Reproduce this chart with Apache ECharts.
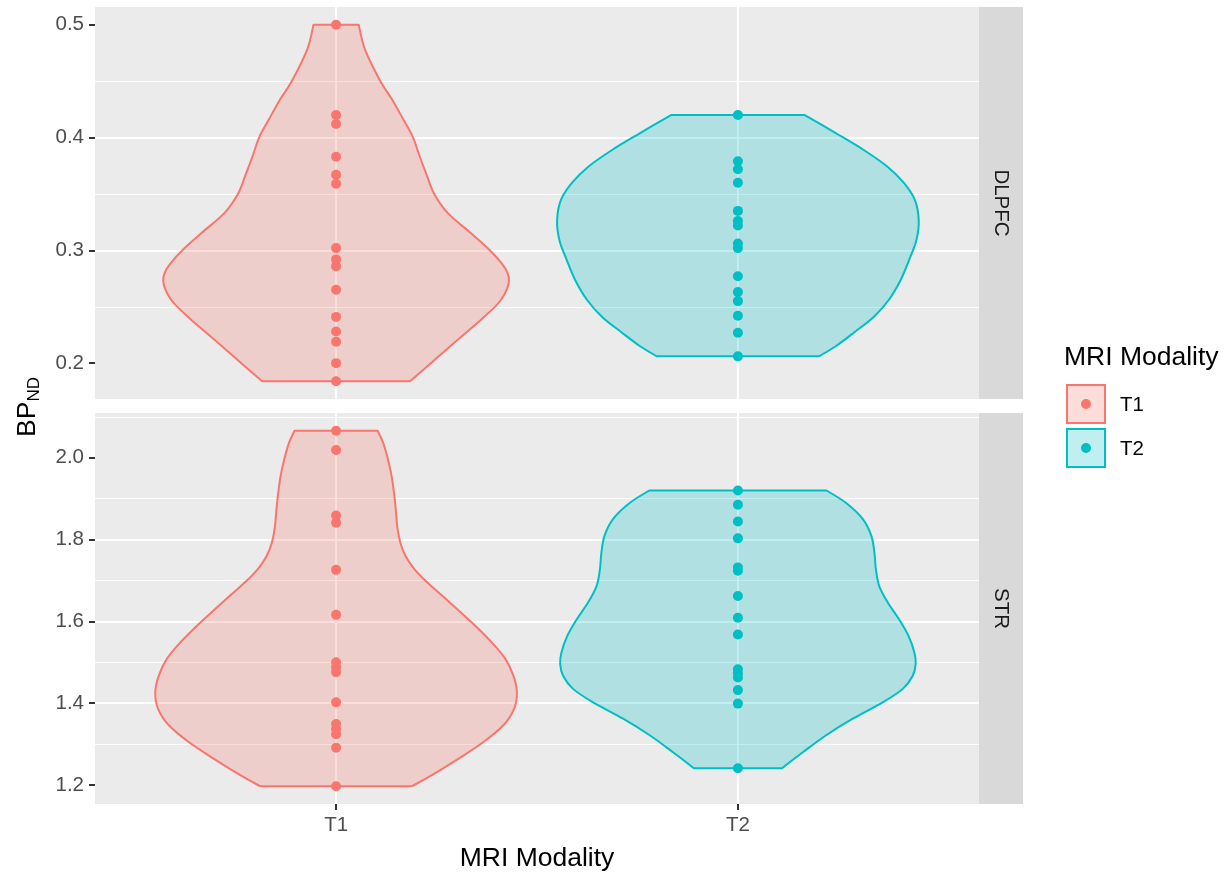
<!DOCTYPE html>
<html>
<head>
<meta charset="utf-8">
<script src="https://cdn.jsdelivr.net/npm/echarts@6/dist/echarts.min.js"></script>
<style>
  html, body { margin: 0; padding: 0; background: #ffffff; }
  #chart { width: 1230px; height: 874px; }
</style>
</head>
<body>
<div id="chart"></div>
<script>
// Binding potential (BP_ND) by MRI modality, faceted by brain region
const modalities = ['T1', 'T2'];
const regions = ['DLPFC', 'STR'];

// individual observations
const dlpfcT1 = [0.500, 0.420, 0.412, 0.383, 0.367, 0.359, 0.302, 0.292, 0.286, 0.265, 0.241, 0.228, 0.219, 0.200, 0.184];
const dlpfcT2 = [0.420, 0.379, 0.372, 0.360, 0.335, 0.326, 0.322, 0.306, 0.302, 0.277, 0.263, 0.255, 0.242, 0.227, 0.206];
const strT1 = [2.066, 2.019, 1.859, 1.841, 1.726, 1.616, 1.500, 1.488, 1.476, 1.402, 1.349, 1.337, 1.324, 1.291, 1.197];
const strT2 = [1.920, 1.885, 1.844, 1.803, 1.732, 1.724, 1.662, 1.609, 1.568, 1.483, 1.473, 1.463, 1.432, 1.399, 1.241];

// violin profiles: [BP_ND, scaled density (1 = widest violin of the panel)]
const dlpfcT1Violin = [
  [0.184, 0.409], [0.201, 0.532], [0.213, 0.617], [0.228, 0.726], [0.239, 0.805],
  [0.251, 0.885], [0.258, 0.920], [0.266, 0.946], [0.273, 0.956], [0.280, 0.948],
  [0.288, 0.918], [0.301, 0.845], [0.316, 0.740], [0.333, 0.618], [0.350, 0.543],
  [0.366, 0.503], [0.383, 0.463], [0.401, 0.423], [0.416, 0.372], [0.434, 0.309],
  [0.450, 0.245], [0.478, 0.160], [0.500, 0.125]
];
const dlpfcT2Violin = [
  [0.206, 0.448], [0.215, 0.541], [0.227, 0.641], [0.241, 0.751], [0.256, 0.834],
  [0.274, 0.901], [0.292, 0.948], [0.309, 0.987], [0.327, 1.000], [0.345, 0.978],
  [0.360, 0.917], [0.374, 0.829], [0.389, 0.696], [0.404, 0.541], [0.420, 0.370]
];
const strT1Violin = [
  [1.197, 0.420], [1.224, 0.530], [1.265, 0.680], [1.305, 0.815], [1.346, 0.925],
  [1.387, 0.985], [1.427, 1.000], [1.468, 0.980], [1.509, 0.935], [1.549, 0.860],
  [1.590, 0.768], [1.630, 0.669], [1.663, 0.586], [1.695, 0.505], [1.728, 0.433],
  [1.760, 0.384], [1.793, 0.355], [1.833, 0.338], [1.874, 0.330], [1.915, 0.320],
  [1.955, 0.307], [1.996, 0.287], [2.037, 0.260], [2.066, 0.230]
];
const strT2Violin = [
  [1.241, 0.243], [1.280, 0.359], [1.321, 0.486], [1.362, 0.635], [1.402, 0.801],
  [1.435, 0.912], [1.467, 0.967], [1.496, 0.983], [1.524, 0.976], [1.565, 0.943],
  [1.606, 0.890], [1.646, 0.829], [1.687, 0.781], [1.728, 0.763], [1.768, 0.755],
  [1.809, 0.738], [1.850, 0.691], [1.890, 0.597], [1.920, 0.490]
];

const dlpfcTicks = [0.2, 0.3, 0.4, 0.5];
const strTicks = [1.2, 1.4, 1.6, 1.8, 2.0];
const modalityTicks = [1, 2];

const colors = ['#F8766D', '#00BFC4'];
const fills = ['rgba(248,118,109,0.25)', 'rgba(0,191,196,0.25)'];
const FONT = "'Liberation Sans', Arial, sans-serif";
const VIOLIN_WIDTH = 0.9;

const panels = [
  { groups: [dlpfcT1, dlpfcT2], violins: [dlpfcT1Violin, dlpfcT2Violin], ticks: dlpfcTicks, step: 0.1 },
  { groups: [strT1, strT2], violins: [strT1Violin, strT2Violin], ticks: strTicks, step: 0.2 }
];

// y range: data range expanded by 5% on each side
panels.forEach(p => {
  const all = p.groups.flat();
  const lo = Math.min(...all), hi = Math.max(...all);
  const pad = (hi - lo) * 0.05;
  p.min = lo - pad; p.max = hi + pad;
});

// smooth path through pixel points (Catmull-Rom as cubic Bezier)
function curveTo(pts) {
  let d = '';
  for (let i = 0; i < pts.length - 1; i++) {
    const p0 = pts[Math.max(i - 1, 0)], p1 = pts[i], p2 = pts[i + 1], p3 = pts[Math.min(i + 2, pts.length - 1)];
    const c1 = [p1[0] + (p2[0] - p0[0]) / 6, p1[1] + (p2[1] - p0[1]) / 6];
    const c2 = [p2[0] - (p3[0] - p1[0]) / 6, p2[1] - (p3[1] - p1[1]) / 6];
    d += ' C' + c1[0] + ',' + c1[1] + ' ' + c2[0] + ',' + c2[1] + ' ' + p2[0] + ',' + p2[1];
  }
  return d;
}

const gridRects = [
  { left: 95, top: 7, width: 884, height: 392 },
  { left: 95, top: 413, width: 884, height: 391 }
];

const grids = gridRects.map(r => ({
  left: r.left, top: r.top, width: r.width, height: r.height,
  show: true, backgroundColor: '#EBEBEB', borderWidth: 0
}));

const xAxes = panels.map((p, i) => ({
  gridIndex: i, type: 'value', min: 0.4, max: 2.6,
  minInterval: 1, maxInterval: 1,
  axisLine: { show: false },
  axisTick: { show: i === 1, customValues: modalityTicks, length: 6, lineStyle: { color: '#333333', width: 2 } },
  axisLabel: {
    show: i === 1, customValues: modalityTicks, margin: 11,
    formatter: v => modalities[Math.round(v) - 1] || '',
    color: '#4D4D4D', fontSize: 20.5, fontFamily: FONT
  },
  splitLine: { show: false },
  name: i === 1 ? 'MRI Modality' : '',
  nameLocation: 'middle', nameGap: 41,
  nameTextStyle: { color: '#000000', fontSize: 26.5, fontFamily: FONT }
}));

const yAxes = panels.map((p, i) => ({
  gridIndex: i, type: 'value', min: p.min, max: p.max,
  minInterval: p.step, maxInterval: p.step,
  axisLine: { show: false },
  axisTick: { show: true, customValues: p.ticks, length: 6, lineStyle: { color: '#333333', width: 2 } },
  axisLabel: {
    customValues: p.ticks, margin: 11,
    formatter: v => v.toFixed(1),
    color: '#4D4D4D', fontSize: 20.5, fontFamily: FONT
  },
  splitLine: { show: true, showMinLine: false, showMaxLine: false, lineStyle: { color: '#ffffff', width: 2 } },
  minorTick: { show: false, splitNumber: 2 },
  minorSplitLine: { show: true, lineStyle: { color: '#ffffff', width: 1 } }
}));

const series = [];
// vertical major grid lines at each modality
panels.forEach((p, pi) => {
  series.push({
    type: 'custom',
    xAxisIndex: pi, yAxisIndex: pi,
    silent: true, z: 1,
    data: modalityTicks.map(m => [m, p.min]),
    renderItem: (params, api) => {
      const x = api.value(0);
      const a = api.coord([x, p.min]);
      const b = api.coord([x, p.max]);
      return {
        type: 'line',
        shape: { x1: a[0], y1: a[1], x2: b[0], y2: b[1] },
        style: { stroke: '#ffffff', lineWidth: 2 }
      };
    }
  });
});
// violins
panels.forEach((p, pi) => {
  p.violins.forEach((prof, gi) => {
    const xc = gi + 1;
    const half = VIOLIN_WIDTH / 2;
    series.push({
      type: 'custom',
      xAxisIndex: pi, yAxisIndex: pi,
      silent: true, z: 2,
      data: [[xc, prof[0][0]]],
      renderItem: (params, api) => {
        const left = prof.map(([v, w]) => api.coord([xc - half * w, v]));
        const right = prof.slice().reverse().map(([v, w]) => api.coord([xc + half * w, v]));
        let d = 'M' + left[0][0] + ',' + left[0][1] + curveTo(left);
        d += ' L' + right[0][0] + ',' + right[0][1] + curveTo(right) + ' Z';
        return {
          type: 'path',
          shape: { pathData: d },
          style: { fill: fills[gi], stroke: colors[gi], lineWidth: 2, lineJoin: 'round' }
        };
      }
    });
  });
});
// observations
panels.forEach((p, pi) => {
  p.groups.forEach((vals, gi) => {
    series.push({
      type: 'scatter',
      name: modalities[gi],
      xAxisIndex: pi, yAxisIndex: pi,
      symbol: 'circle', symbolSize: 10, z: 3,
      itemStyle: { color: colors[gi], opacity: 1 },
      silent: true,
      data: vals.map(v => [gi + 1, v])
    });
  });
});

const graphic = [];
// facet strips
gridRects.forEach((r, i) => {
  graphic.push({
    type: 'rect', silent: true,
    shape: { x: 979, y: r.top, width: 44, height: r.height },
    style: { fill: '#D9D9D9' }
  });
  graphic.push({
    type: 'text', silent: true,
    x: 1001, y: r.top + r.height / 2, rotation: -Math.PI / 2,
    style: { text: regions[i], fill: '#1A1A1A', fontSize: 20.5, fontFamily: FONT, align: 'center', verticalAlign: 'middle' }
  });
});
// y-axis title with subscript
graphic.push({
  type: 'text', silent: true,
  x: 28, y: 407, rotation: Math.PI / 2,
  style: {
    text: '{a|BP}{b|ND}',
    align: 'center', verticalAlign: 'middle',
    rich: {
      a: { fontSize: 26.5, fontFamily: FONT, fill: '#000000', lineHeight: 30, verticalAlign: 'middle' },
      b: { fontSize: 17, fontFamily: FONT, fill: '#000000', lineHeight: 17, verticalAlign: 'bottom' }
    }
  }
});
// legend
graphic.push({
  type: 'text', silent: true, x: 1064, y: 358,
  style: { text: 'MRI Modality', fill: '#000000', fontSize: 26.5, fontFamily: FONT, verticalAlign: 'middle' }
});
modalities.forEach((m, i) => {
  const top = 385 + i * 44;
  graphic.push({
    type: 'rect', silent: true,
    shape: { x: 1067, y: top, width: 38, height: 38 },
    style: { fill: fills[i], stroke: colors[i], lineWidth: 2 }
  });
  graphic.push({
    type: 'circle', silent: true,
    shape: { cx: 1086, cy: top + 19, r: 5 },
    style: { fill: colors[i] }
  });
  graphic.push({
    type: 'text', silent: true, x: 1120, y: top + 20,
    style: { text: m, fill: '#000000', fontSize: 20.5, fontFamily: FONT, verticalAlign: 'middle' }
  });
});

const chart = echarts.init(document.getElementById('chart'), null, { renderer: 'canvas' });
chart.setOption({
  animation: false,
  backgroundColor: '#ffffff',
  grid: grids,
  xAxis: xAxes,
  yAxis: yAxes,
  series: series,
  graphic: graphic
});
</script>
</body>
</html>
